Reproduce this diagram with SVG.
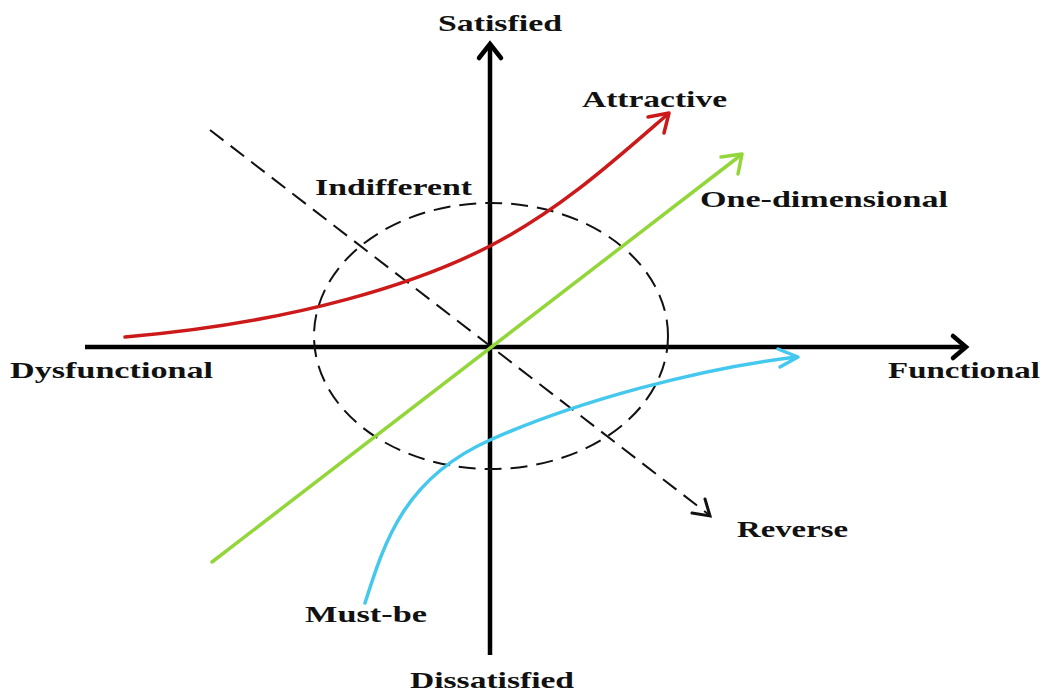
<svg xmlns="http://www.w3.org/2000/svg" width="1047" height="694" viewBox="0 0 1047 694">
<style>
.lbl{font-family:"Liberation Serif","Times New Roman",serif;font-weight:bold;font-size:24px;fill:#111}
.axis{stroke:#000;stroke-width:4.5;fill:none}
.dash{stroke:#111;stroke-width:2;fill:none;stroke-dasharray:17,9}
.curve{fill:none;stroke-width:3.5;stroke-linecap:round;stroke-linejoin:round}
</style>
<rect width="1047" height="694" fill="#fff"/>
<g id="connectors">
<g id="axes">
<path class="axis" d="M85,347 H965"/>
<path class="axis" d="M953,336 L966,347 L953,358" stroke-linecap="round" stroke-linejoin="miter"/>
<path class="axis" d="M490,655 V44"/>
<path class="axis" d="M479,58 L490,44 L501,58" stroke-linecap="round"/>
</g>
<ellipse id="indifferent-circle" class="dash" cx="491" cy="336" rx="177" ry="133"/>
<g id="reverse-line">
<path class="dash" d="M210,130 L708,514"/>
<path d="M692,513 L710,516 L705,499" fill="none" stroke="#111" stroke-width="3" stroke-linecap="round"/>
</g>
<g id="one-dimensional-line">
<path class="curve" stroke="#92d63a" d="M212,562 L741,155"/>
<path class="curve" stroke="#92d63a" d="M721,157 L742,154 L738,174"/>
</g>
<g id="attractive-curve">
<path class="curve" stroke="#cc1a1a" d="M125,337 C300,322 420,282 490,246 S615,160 668,114"/>
<path class="curve" stroke="#cc1a1a" d="M648,117 L669,113 L664,133"/>
</g>
<g id="must-be-curve">
<path class="curve" stroke="#45c8ee" d="M365,603 C385,540 405,478 490,440 S700,368 797,357"/>
<path class="curve" stroke="#45c8ee" d="M778,349 L798,357 L780,367"/>
</g>
</g>
<g id="satisfied"><text class="lbl" x="438" y="31" textLength="124" lengthAdjust="spacingAndGlyphs">Satisfied</text></g>
<g id="dissatisfied"><text class="lbl" x="410" y="688" textLength="164" lengthAdjust="spacingAndGlyphs">Dissatisfied</text></g>
<g id="dysfunctional"><text class="lbl" x="10" y="378" textLength="203" lengthAdjust="spacingAndGlyphs">Dysfunctional</text></g>
<g id="functional"><text class="lbl" x="888" y="378" textLength="152" lengthAdjust="spacingAndGlyphs">Functional</text></g>
<g id="attractive"><text class="lbl" x="582" y="107" textLength="145" lengthAdjust="spacingAndGlyphs">Attractive</text></g>
<g id="one-dimensional"><text class="lbl" x="700" y="207" textLength="248" lengthAdjust="spacingAndGlyphs">One-dimensional</text></g>
<g id="indifferent"><text class="lbl" x="315" y="195" textLength="157" lengthAdjust="spacingAndGlyphs">Indifferent</text></g>
<g id="reverse"><text class="lbl" x="737" y="537" textLength="111" lengthAdjust="spacingAndGlyphs">Reverse</text></g>
<g id="must-be"><text class="lbl" x="305" y="622" textLength="122" lengthAdjust="spacingAndGlyphs">Must-be</text></g>
</svg>
